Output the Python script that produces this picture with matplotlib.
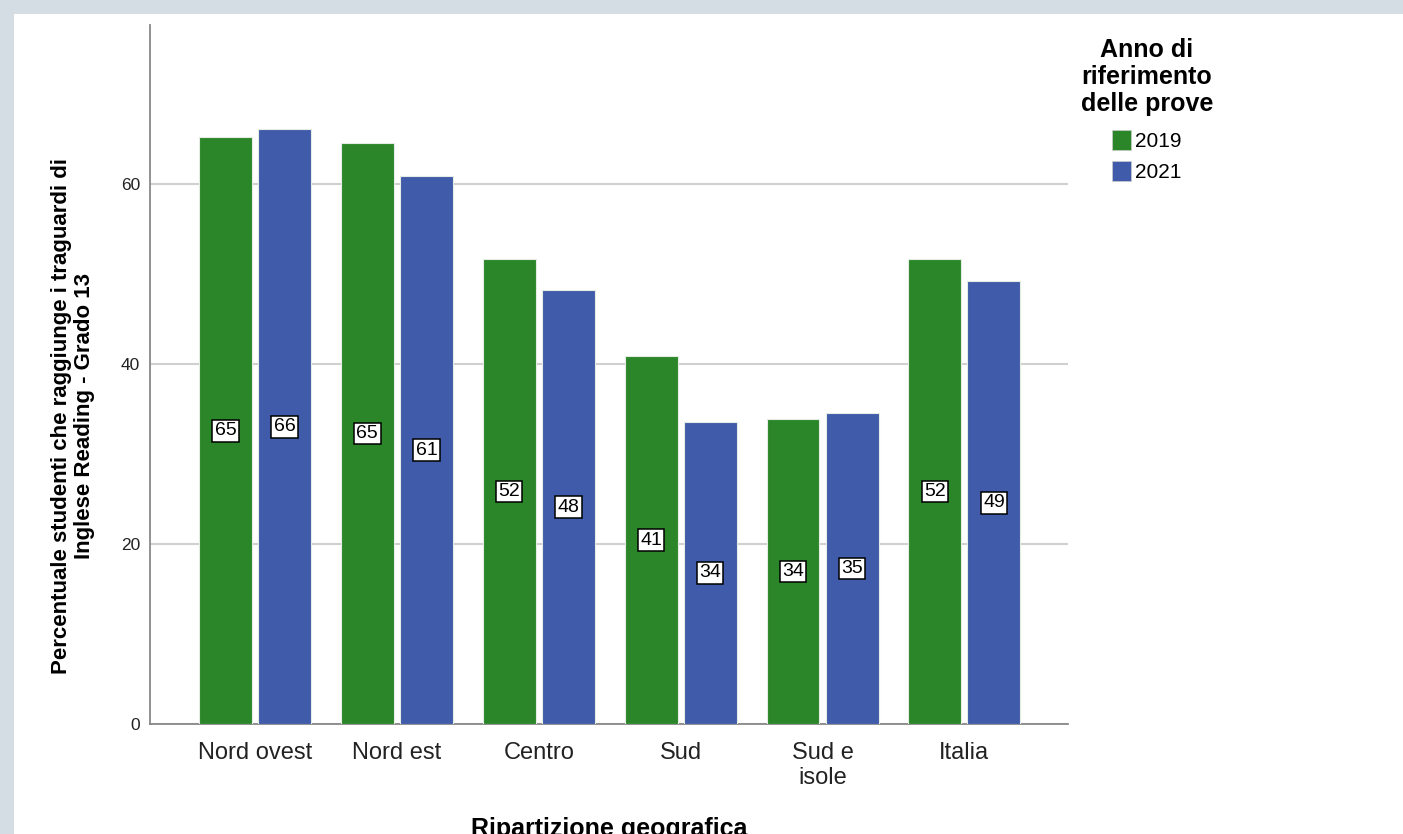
import numpy as np
import matplotlib
matplotlib.use("Agg")
import matplotlib.pyplot as plt
from matplotlib.patches import Rectangle, Patch

# ─── Data ───────────────────────────────────────────────
regions = ["Nord ovest", "Nord est", "Centro", "Sud", "Sud e\nisole", "Italia"]
years = ["2019", "2021"]
vals_2019 = [65.2, 64.6, 51.7, 40.9, 33.9, 51.7]
vals_2021 = [66.1, 60.9, 48.2, 33.6, 34.6, 49.2]
labels_2019 = ["65", "65", "52", "41", "34", "52"]
labels_2021 = ["66", "61", "48", "34", "35", "49"]
colors = ["#2a8629", "#3f5ba9"]

plt.rcParams["font.family"] = ["Liberation Sans", "DejaVu Sans"]

W, H = 1403, 834
fig = plt.figure(figsize=(W / 100, H / 100), dpi=100)
fig.patch.set_facecolor("#d3dde3")
fig.patches.append(Rectangle((14 / W, 0), 1, 1 - 14 / H, transform=fig.transFigure,
                             facecolor="white", edgecolor="none", zorder=-10))

ax = fig.add_axes([150 / W, 1 - 724 / H, (1068 - 150) / W, (724 - 25) / H])
ax.set_facecolor("none")

x = np.arange(len(regions))
bw = 0.373
off = 0.208
for vals, labs, col, sign in [(vals_2019, labels_2019, colors[0], -1),
                              (vals_2021, labels_2021, colors[1], 1)]:
    bars = ax.bar(x + sign * off, vals, width=bw, color=col,
                  edgecolor="#e4ece4", linewidth=0.8, zorder=3)
    for b, v, t in zip(bars, vals, labs):
        ax.text(b.get_x() + b.get_width() / 2, v / 2, t, ha="center", va="center",
                fontsize=14, zorder=5,
                bbox=dict(boxstyle="square,pad=0.12", facecolor="white",
                          edgecolor="black", linewidth=1.1))

ax.set_xlim(-0.74, 5.73)
ax.set_ylim(0, 77.7)
ax.set_yticks([0, 20, 40, 60])
ax.set_xticks(x)
ax.set_xticklabels(regions, fontsize=17, linespacing=1.15)
ax.tick_params(axis="x", length=0, pad=13, colors="#222222")
ax.tick_params(axis="y", length=0, pad=7, labelsize=12.5, colors="#222222")
ax.yaxis.grid(True, color="#d0d0d0", linewidth=1.5, zorder=1)
ax.set_axisbelow(True)
for s in ["top", "right"]:
    ax.spines[s].set_visible(False)
for s in ["left", "bottom"]:
    ax.spines[s].set_color("#888888")
    ax.spines[s].set_linewidth(1.3)

# axis titles
fig.text(73 / W, 1 - 416 / H,
         "Percentuale studenti che raggiunge i traguardi di\nInglese Reading - Grado 13",
         rotation=90, ha="center", va="center", multialignment="center",
         fontsize=16, fontweight="bold", linespacing=1.15)
fig.text(609 / W, 1 - 817 / H, "Ripartizione geografica", ha="center", va="top",
         fontsize=18, fontweight="bold")

# legend
fig.text(1147 / W, 1 - 38 / H, "Anno di\nriferimento\ndelle prove", ha="center", va="top",
         fontsize=18, fontweight="bold", linespacing=1.15)
handles = [Patch(facecolor=c, edgecolor="#cccccc", linewidth=0.5) for c in colors]
fig.legend(handles, years, loc="upper left", bbox_to_anchor=(1097 / W, 1 - 115 / H),
           frameon=False, fontsize=15, handlelength=0.95, handleheight=1.1,
           handletextpad=0.15, labelspacing=0.5, borderpad=0.2)

fig.savefig("out.png", dpi=100, facecolor=fig.get_facecolor())
